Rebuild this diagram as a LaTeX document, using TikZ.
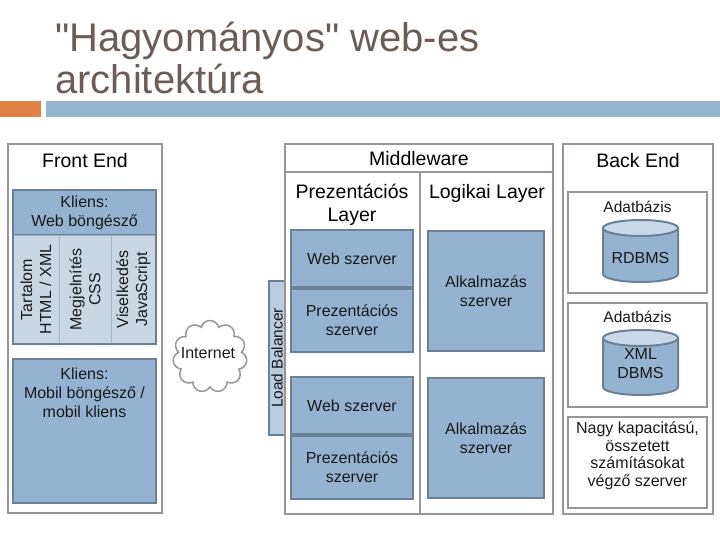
\documentclass[tikz,border=0pt]{standalone}
\usepackage{fontspec}
\setmainfont{Liberation Sans}
\usetikzlibrary{positioning,shapes.symbols}
\newcommand\straightquote{\XeTeXglyph\XeTeXglyphindex"quotedbl"\relax}

\begin{document}
\begin{tikzpicture}
    [x=1pt,y=1pt,yscale=-1,
    % Styles
    tierframe/.style={draw=framegray,line width=2.5pt,inner sep=0pt},
    serverbox/.style={draw=boxedge,fill=boxblue,line width=2pt,inner sep=0pt},
    colbox/.style={draw=coledge,fill=colblue,line width=1pt,inner sep=0pt},
    heading/.style={font=\fontsize{19.5}{23}\selectfont,align=center,inner sep=0pt},
    smalltext/.style={font=\fontsize{16}{19}\selectfont,align=center,inner sep=0pt,text=black!90}]

    % Colors
    \definecolor{framegray}{RGB}{155,148,148}
    \definecolor{boxblue}{RGB}{149,179,208}
    \definecolor{boxedge}{RGB}{108,128,148}
    \definecolor{colblue}{RGB}{200,215,230}
    \definecolor{coledge}{RGB}{160,180,200}
    \definecolor{lbblue}{RGB}{185,205,225}
    \definecolor{cyltop}{RGB}{200,217,233}
    \definecolor{titlecolor}{RGB}{107,92,86}
    \definecolor{barorange}{RGB}{222,130,70}
    \definecolor{barblue}{RGB}{148,181,208}

    \useasboundingbox (0,0) rectangle (720,540);

    % Title
    \node[anchor=base west,inner sep=0pt,text=titlecolor,font=\fontsize{40}{42}\selectfont] (title1) at (55,52) {\straightquote Hagyományos\straightquote{} web-es};
    \node[anchor=base west,inner sep=0pt,text=titlecolor,font=\fontsize{40}{42}\selectfont] (title2) at (55,94) {architektúra};
    \fill[barorange] (0,101) rectangle (41,117);
    \fill[barblue] (46,101) rectangle (720,117);

    % Front End
    \node[tierframe,minimum width=154pt,minimum height=369pt] (front) at (85,328.5) {};
    \node[heading] (fronttitle) at (85,161) {Front End};
    \node[serverbox,minimum width=143pt,minimum height=45pt] (webhead) at (84.5,212.5) {};
    \node[smalltext] at (webhead) {Kliens:\\Web böngésző};
    \node[colbox,minimum width=46pt,minimum height=109pt] (content) at (36,289.5) {};
    \node[colbox,minimum width=52pt,minimum height=109pt] (layout) at (85,289.5) {};
    \node[colbox,minimum width=45pt,minimum height=109pt] (behaviour) at (133.5,289.5) {};
    \node[smalltext,rotate=90] at (content) {Tartalom\\HTML / XML};
    \node[smalltext,rotate=90] at (layout) {Megjelnítés\\CSS};
    \node[smalltext,rotate=90] at (behaviour) {Viselkedés\\JavaScript};
    \node[draw=boxedge,line width=2pt,minimum width=143pt,minimum height=154pt,inner sep=0pt] (webclient) at (84.5,267) {};
    \node[serverbox,minimum width=143pt,minimum height=144pt] (mobile) at (84.5,431) {};
    \node[smalltext] (mobiletext) at (84.5,393) {Kliens:\\Mobil böngésző /\\mobil kliens};

    % Internet
    \node[cloud,cloud puffs=11,draw=framegray,line width=1.5pt,minimum width=74pt,minimum height=72pt,inner sep=0pt] (cloud) at (210,356.5) {};
    \node[smalltext] (internet) at (208,353) {Internet};

    % Load Balancer
    \node[draw=boxedge,fill=lbblue,line width=2pt,minimum width=16pt,minimum height=154pt,inner sep=0pt] (lb) at (277,358) {};
    \node[smalltext,rotate=90,font=\fontsize{15.5}{18}\selectfont] at (lb) {Load Balancer};

    % Middleware
    \node[tierframe,minimum width=268pt,minimum height=370pt] (middle) at (419,329) {};
    \draw[framegray,line width=2.5pt] (285,172) -- (553,172);
    \draw[framegray,line width=2.5pt] (420,172) -- (420,514);
    \node[heading] (middletitle) at (419,159) {Middleware};
    \node[heading] (presentation) at (352,205) {Prezentációs\\Layer};
    \node[heading] (logic) at (487,193) {Logikai Layer};
    \foreach \y/\n in {258.5/1, 405.5/2}
    {
      \node[serverbox,minimum width=122pt,minimum height=57pt] (web\n) at (352,\y) {};
      \node[smalltext] at (web\n) {Web szerver};
      \node[serverbox,minimum width=122pt,minimum height=63pt,below=0pt of web\n] (pres\n) {};
      \node[smalltext] at (pres\n) {Prezentációs\\szerver};
      \node[serverbox,minimum width=116pt,minimum height=120pt,anchor=north west] (app\n) at (427,\y-28.5) {};
      \node[smalltext] at (app\n) {Alkalmazás\\szerver};
    }

    % Back End
    \node[tierframe,minimum width=150pt,minimum height=370pt] (back) at (638,329) {};
    \node[heading] (backtitle) at (638,161) {Back End};
    \node[tierframe,line width=2pt,minimum width=139pt,minimum height=101pt] (db1) at (637.5,242.5) {};
    \node[tierframe,line width=2pt,minimum width=139pt,minimum height=104pt] (db2) at (637.5,355) {};
    \node[tierframe,line width=2pt,minimum width=139pt,minimum height=91pt] (compute) at (637.5,462.5) {};
    \node[smalltext,font=\fontsize{15.5}{18}\selectfont] (db1text) at (637.5,207) {Adatbázis};
    \node[smalltext,font=\fontsize{15.5}{18}\selectfont] (db2text) at (637.5,317) {Adatbázis};
    % Cylinders
    \foreach \yt/\yb in {228/274, 338/387}
    {
      \fill[boxblue] (603,\yt) -- (603,\yb) arc[start angle=180,end angle=0,x radius=37.5,y radius=8] -- (678,\yt) -- cycle;
      \draw[boxedge,line width=2pt] (603,\yt) -- (603,\yb) arc[start angle=180,end angle=0,x radius=37.5,y radius=8] -- (678,\yt);
      \filldraw[fill=cyltop,draw=boxedge,line width=2pt] (640.5,\yt) ellipse[x radius=37.5,y radius=8];
    }
    \node[smalltext] (rdbms) at (640.5,258) {RDBMS};
    \node[smalltext] (xmldbms) at (640.5,364) {XML\\DBMS};
    \node[smalltext,font=\fontsize{16}{17.5}\selectfont] (computetext) at (637.5,456) {Nagy kapacitású,\\összetett\\számításokat\\végző szerver};
\end{tikzpicture}
\end{document}
